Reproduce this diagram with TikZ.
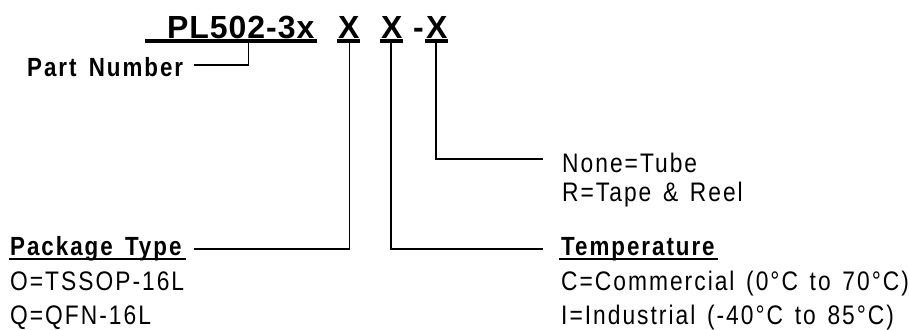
\documentclass[tikz,border=0pt]{standalone}
\usepackage{fontspec}
\setmainfont{Liberation Sans}
\newfontfamily\bodyf[FakeStretch=0.85,LetterSpace=7.5,WordSpace=1.4]{Liberation Sans}
\newfontfamily\headf[FakeStretch=0.85,LetterSpace=7.5,WordSpace=1.5]{Liberation Sans Bold}
\newfontfamily\titlef[LetterSpace=3]{Liberation Sans Bold}
\begin{document}
\begin{tikzpicture}[x=1pt,y=-1pt,
  body/.style={inner sep=0,anchor=base west,font=\bodyf\fontsize{26.8}{26.8}\selectfont},
  head/.style={inner sep=0,anchor=base west,font=\headf\fontsize{26.3}{26.3}\selectfont},
  title/.style={inner sep=0,anchor=base west,font=\titlef\fontsize{32}{32}\selectfont},
  rulebar/.style={inner sep=0,outer sep=0,fill=black,minimum height=#1,anchor=west},
  rulebar/.default=3.4pt,
  wire/.style={draw=black,line width=1.5pt,line cap=butt,line join=miter}]
\useasboundingbox (0,0) rectangle (909,329);
% title
\node[title] (pl) at (167,38.2) {PL502-3x};
\node[title] (xa) at (338,38.2) {X};
\node[title] (xb) at (381,38.2) {X};
\node[title] (dash) at (413,38.2) {-};
\node[title] (xc) at (426,38.2) {X};
\node[rulebar,minimum width=172pt] (upl) at (145,41) {};
\node[rulebar,minimum width=23pt] (uxa) at (337,41) {};
\node[rulebar,minimum width=23pt] (uxb) at (380,41) {};
\node[rulebar,minimum width=23pt] (uxc) at (425,41) {};
% labels
\node[head] (part) at (27,76.5) {Part Number};
\node[head] (pkg) at (10,255) {Package Type};
\node[rulebar=2pt,minimum width=177pt] (upkg) at (9,259.3) {};
\node[body] (pkga) at (10,290.5) {O=TSSOP-16L};
\node[body] (pkgb) at (10,324) {Q=QFN-16L};
\node[body] (none) at (562,172) {None=Tube};
\node[body] (reel) at (562,201) {R=Tape \& Reel};
\node[head] (temp) at (561,255) {Temperature};
\node[rulebar=2pt,minimum width=159pt] (utemp) at (559,259.3) {};
\node[body] (tc) at (561,290.5) {C=Commercial (0°C to 70°C)};
\node[body] (ti) at (561,324) {I=Industrial (-40°C to 85°C)};
% free ends
\coordinate (plstub) at (248.5,41);
\coordinate (partend) at (194,65);
\coordinate (pkgend) at (194,249.2);
\coordinate (tempend) at (543,249.2);
\coordinate (noneend) at (543,159.2);
% connectors
\draw[wire] (plstub) |- (partend);
\draw[wire] (uxa.south -| 349.5,0) |- (pkgend);
\draw[wire] (uxb.south -| 391,0) |- (tempend);
\draw[wire] (uxc.south -| 436,0) |- (noneend);
\end{tikzpicture}
\end{document}
